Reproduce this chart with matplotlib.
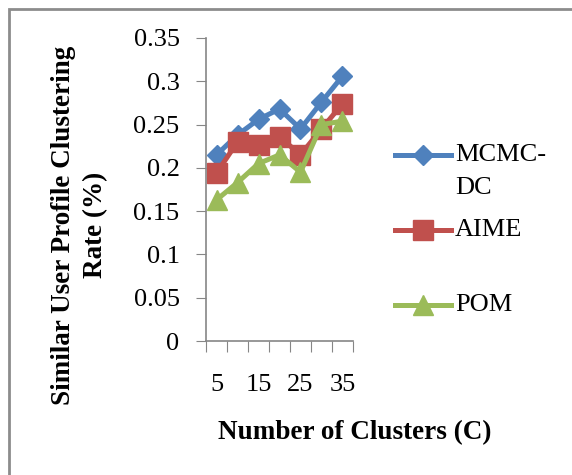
import numpy as np
import matplotlib
matplotlib.use('Agg')
import matplotlib.pyplot as plt
from matplotlib.lines import Line2D
from matplotlib.patches import Rectangle

# data
clusters = ['5', '10', '15', '20', '25', '30', '35']
mcmc_dc = [0.215, 0.238, 0.256, 0.268, 0.245, 0.276, 0.306]
aime = [0.194, 0.230, 0.226, 0.236, 0.215, 0.245, 0.274]
pom = [0.163, 0.183, 0.205, 0.215, 0.195, 0.250, 0.254]
series_names = ['MCMC-', 'AIME', 'POM']
y_ticks = [0, 0.05, 0.1, 0.15, 0.2, 0.25, 0.3, 0.35]
y_labels = ['0', '0.05', '0.1', '0.15', '0.2', '0.25', '0.3', '0.35']

colors = ['#4F81BD', '#C0504D', '#9BBB59']
markers = ['D', 's', '^']
msizes = [10, 14, 14]

plt.rcParams['font.family'] = ['Liberation Serif', 'DejaVu Serif']

W, H = 572, 475
fig = plt.figure(figsize=(W / 100, H / 100), dpi=100)

def fx(px):
    return px / W

def fy(py):
    return 1 - py / H

# outer frame like the Excel chart area
fig.patches.append(Rectangle((fx(9), fy(480)), fx(580) - fx(9), fy(9) - fy(480),
                             transform=fig.transFigure, fill=False,
                             edgecolor='#8c8c8c', linewidth=2))

ax = fig.add_axes([fx(206), fy(341), fx(353) - fx(206), fy(38) - fy(341)])

x = np.arange(len(clusters))
for vals, c, m, ms in zip([mcmc_dc, aime, pom], colors, markers, msizes):
    ax.plot(x, vals, color=c, marker=m, markersize=ms, linewidth=3.6,
            markeredgecolor=c, clip_on=False)

ax.set_ylim(0, 0.35)
ax.set_xlim(-0.5, len(clusters) - 0.5)
ax.set_yticks(y_ticks)
ax.set_yticklabels(y_labels, fontsize=19)
ax.tick_params(axis='y', direction='out', length=7, color='#868686', pad=12)

# tick marks between categories, labels on every other category
ax.set_xticks(np.arange(-0.5, len(clusters), 1))
ax.set_xticklabels([])
ax.tick_params(axis='x', which='major', direction='out', length=8, color='#868686')
ax.set_xticks(x[::2], minor=True)
ax.set_xticklabels(clusters[::2], minor=True, fontsize=19)
ax.tick_params(axis='x', which='minor', length=0, pad=24)

for s in ['top', 'right']:
    ax.spines[s].set_visible(False)
for s in ['left', 'bottom']:
    ax.spines[s].set_color('#868686')
    ax.spines[s].set_linewidth(1.2)

fig.text(fx(355), fy(433), 'Number of Clusters (C)', ha='center', va='center',
         fontsize=19.5, fontweight='bold')
fig.text(fx(64), fy(225), 'Similar User Profile Clustering', rotation=90,
         ha='center', va='center', fontsize=19.5, fontweight='bold')
fig.text(fx(96), fy(225), 'Rate (%)', rotation=90,
         ha='center', va='center', fontsize=19.5, fontweight='bold')

# legend drawn by hand to match the layout
leg_y = [155, 230, 305]
for name, c, m, ms, ly in zip(series_names, colors, markers, msizes, leg_y):
    fig.add_artist(Line2D([fx(395), fx(451)], [fy(ly), fy(ly)], color=c,
                          linewidth=3.6, transform=fig.transFigure))
    fig.add_artist(Line2D([fx(423)], [fy(ly)], color=c, marker=m, markersize=ms,
                          transform=fig.transFigure))
    fig.text(fx(455), fy(ly), name, ha='left', va='center', fontsize=19)
# second line of the wrapped MCMC-DC legend entry
fig.text(fx(455), fy(188), 'DC', ha='left', va='center', fontsize=19)

fig.savefig('out.png', dpi=100)
